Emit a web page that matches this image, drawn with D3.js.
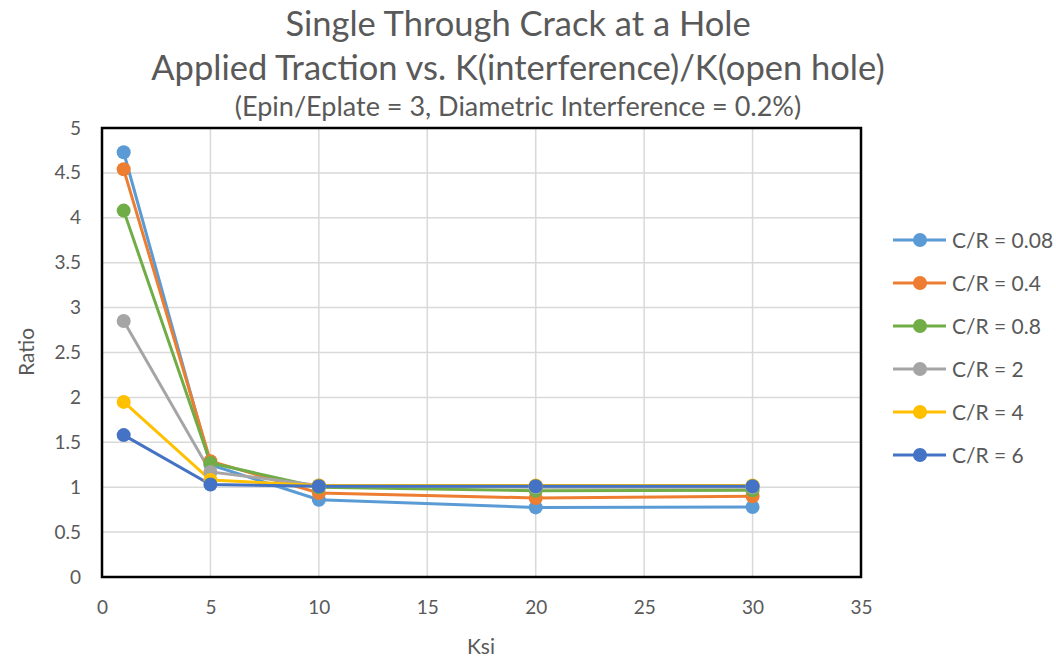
<!DOCTYPE html>
<html><head><meta charset="utf-8">
<script src="https://cdn.jsdelivr.net/npm/d3@7"></script>
<style>body{margin:0;background:#fff}svg{display:block}text{font-family:Lato,"Open Sans",sans-serif;fill:#595959}</style>
</head><body><svg id="c" width="1056" height="662"></svg>
<script>
const ksi = [1, 5, 10, 20, 30];
const seriesNames = ["C/R = 0.08", "C/R = 0.4", "C/R = 0.8", "C/R = 2", "C/R = 4", "C/R = 6"];
const cr008 = [4.73, 1.25, 0.86, 0.775, 0.78];
const cr04 = [4.54, 1.29, 0.935, 0.88, 0.90];
const cr08 = [4.08, 1.27, 1.00, 0.96, 0.965];
const cr2 = [2.85, 1.17, 1.02, 1.00, 1.00];
const cr4 = [1.95, 1.08, 1.02, 1.02, 1.02];
const cr6 = [1.58, 1.03, 1.01, 1.01, 1.01];
const colors = ["#5B9BD5", "#ED7D31", "#70AD47", "#A5A5A5", "#FFC000", "#4472C4"];
const xTicks = [0, 5, 10, 15, 20, 25, 30, 35];
const yTicks = [0, 0.5, 1, 1.5, 2, 2.5, 3, 3.5, 4, 4.5, 5];
const titleLines = ["Single Through Crack at a Hole", "Applied Traction vs. K(interference)/K(open hole)"];
const subtitle = "(Epin/Eplate = 3, Diametric Interference = 0.2%)";

const allSeries = [cr008, cr04, cr08, cr2, cr4, cr6];
const svg = d3.select("#c");
const L = 102, R = 861, T = 128, B = 577;
const x = d3.scaleLinear().domain([0, 35]).range([L, R]);
const y = d3.scaleLinear().domain([0, 5]).range([B, T]);

// gridlines
svg.append("g").selectAll("line").data(yTicks).join("line")
  .attr("x1", L).attr("x2", R).attr("y1", d => y(d)).attr("y2", d => y(d))
  .attr("stroke", "#d9d9d9").attr("stroke-width", 1.5);
svg.append("g").selectAll("line").data(xTicks).join("line")
  .attr("y1", T).attr("y2", B).attr("x1", d => x(d)).attr("x2", d => x(d))
  .attr("stroke", "#d9d9d9").attr("stroke-width", 1.5);

// axes (labels only)
const xAxis = svg.append("g").attr("transform", `translate(0,${B})`)
  .call(d3.axisBottom(x).tickValues(xTicks).tickSize(0).tickPadding(24));
const yAxis = svg.append("g").attr("transform", `translate(${L},0)`)
  .call(d3.axisLeft(y).tickValues(yTicks).tickSize(0).tickPadding(21).tickFormat(d3.format("~g")));
[xAxis, yAxis].forEach(a => { a.select(".domain").remove(); a.selectAll("text").attr("font-size", 19).attr("font-family", "Lato, 'Open Sans', sans-serif").attr("fill", "#595959"); });

// border
svg.append("rect").attr("x", L).attr("y", T).attr("width", R - L).attr("height", B - T)
  .attr("fill", "none").attr("stroke", "#000").attr("stroke-width", 2.5);

// series
const line = d3.line().x((d, i) => x(ksi[i])).y(d => y(d));
allSeries.forEach((s, k) => {
  svg.append("path").datum(s).attr("d", line).attr("fill", "none")
    .attr("stroke", colors[k]).attr("stroke-width", 3);
});
allSeries.forEach((s, k) => {
  svg.append("g").selectAll("circle").data(s).join("circle")
    .attr("cx", (d, i) => x(ksi[i])).attr("cy", d => y(d)).attr("r", 7)
    .attr("fill", colors[k]);
});

// titles
svg.selectAll(".t").data(titleLines).join("text")
  .attr("x", 518).attr("y", (d, i) => 36 + i * 44).attr("text-anchor", "middle")
  .attr("font-size", 34.5).text(d => d);
svg.append("text").attr("x", 518).attr("y", 116).attr("text-anchor", "middle")
  .attr("font-size", 27).text(subtitle);

svg.append("text").attr("x", 481).attr("y", 654).attr("text-anchor", "middle")
  .attr("font-size", 21).text("Ksi");
svg.append("text").attr("transform", "translate(34,352) rotate(-90)").attr("text-anchor", "middle")
  .attr("font-size", 21).text("Ratio");

// legend
const lg = svg.append("g").selectAll("g").data(seriesNames).join("g")
  .attr("transform", (d, i) => `translate(893,${240 + i * 43})`);
lg.append("line").attr("x1", 0).attr("x2", 53).attr("stroke", (d, i) => colors[i]).attr("stroke-width", 3);
lg.append("circle").attr("cx", 27).attr("r", 7).attr("fill", (d, i) => colors[i]);
lg.append("text").attr("x", 59).attr("y", 7.5).attr("font-size", 21).text(d => d);
</script></body></html>
